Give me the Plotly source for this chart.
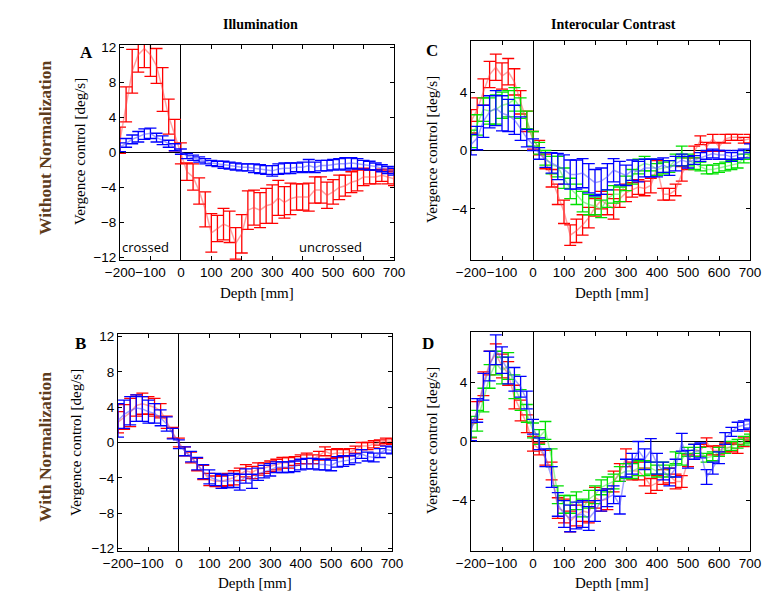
import plotly.graph_objects as go

# depth axis (mm), one sample every 20 mm
depth = list(range(-200, 720, 20))

# panel A - illumination, without normalization
a_red = [1.4, 5.5, 9.3, 11.2, 11.9, 11.2, 9.9, 7.2, 4.1, 2.0,
         -0.1, -2.2, -2.8, -4.4, -6.5, -9.2, -8.7, -8.2, -8.5, -10.4,
         -9.3, -6.6, -6.3, -6.6, -6.1, -5.9, -5.2, -5.7, -5.3, -5.1,
         -5.1, -5.1, -4.3, -4.3, -4.9, -4.5, -4.0, -3.8, -3.4, -3.2,
         -2.8, -2.8, -2.8, -2.6, -2.8, -3.0]
a_red_err = [1.5, 2.0, 2.5, 2.0, 2.2, 2.5, 2.0, 2.5, 2.0, 1.8,
             1.2, 1.0, 1.5, 1.5, 2.0, 2.2, 1.5, 1.8, 1.8, 1.8,
             2.2, 2.2, 2.0, 2.0, 2.0, 2.2, 2.0, 1.8, 1.8, 1.5,
             1.5, 1.6, 1.5, 1.5, 1.5, 1.4, 1.4, 1.2, 1.2, 1.2,
             1.0, 0.8, 0.8, 0.7, 0.8, 0.8]
a_blue = [0.6, 1.1, 1.5, 1.8, 2.1, 2.2, 1.7, 1.4, 1.0, 0.6,
          0.1, -0.4, -0.6, -0.8, -1.0, -1.2, -1.3, -1.4, -1.5, -1.6,
          -1.7, -1.7, -1.8, -1.9, -2.0, -2.1, -1.9, -1.8, -1.8, -1.7,
          -1.7, -1.5, -1.7, -1.5, -1.5, -1.4, -1.3, -1.3, -1.2, -1.3,
          -1.4, -1.5, -1.6, -1.8, -2.0, -2.2]
a_blue_err = [0.5, 0.5, 0.5, 0.6, 0.6, 0.6, 0.5, 0.5, 0.4, 0.4,
              0.3, 0.3, 0.3, 0.3, 0.3, 0.3, 0.3, 0.4, 0.4, 0.4,
              0.4, 0.4, 0.5, 0.5, 0.5, 0.6, 0.6, 0.6, 0.6, 0.5,
              0.6, 0.7, 0.6, 0.6, 0.6, 0.6, 0.6, 0.7, 0.6, 0.6,
              0.5, 0.5, 0.4, 0.4, 0.4, 0.4]

# panel B - illumination, with normalization
b_red = [2.3, 2.9, 3.4, 4.2, 4.4, 4.2, 4.0, 3.6, 2.3, 1.1,
         0.0, -1.0, -1.7, -2.5, -3.4, -4.2, -4.4, -4.4, -4.2, -4.0,
         -3.6, -3.2, -3.4, -3.0, -2.9, -2.7, -2.5, -2.3, -2.3, -2.1,
         -1.9, -1.8, -1.9, -1.5, -1.0, -1.3, -1.2, -1.2, -1.1, -0.8,
         -0.4, -0.4, -0.2, 0.0, 0.2, 0.1]
b_red_err = [1.2, 1.4, 1.6, 1.2, 1.2, 1.0, 1.0, 0.8, 0.7, 0.6,
             0.5, 0.5, 0.6, 0.7, 0.8, 0.7, 0.6, 0.6, 0.7, 0.8,
             0.7, 0.7, 0.7, 0.7, 0.6, 0.6, 0.6, 0.6, 0.6, 0.5,
             0.5, 0.6, 0.5, 0.5, 0.5, 0.5, 0.5, 0.4, 0.4, 0.4,
             0.4, 0.4, 0.4, 0.3, 0.3, 0.3]
b_blue = [2.5, 3.2, 3.6, 3.9, 3.8, 3.5, 3.3, 2.8, 2.1, 1.0,
          -0.2, -1.0, -1.6, -2.4, -3.3, -3.9, -4.2, -4.4, -4.4, -4.3,
          -4.5, -3.8, -4.4, -3.6, -3.3, -3.1, -2.8, -2.8, -2.8, -2.7,
          -2.5, -2.4, -2.4, -2.5, -2.5, -2.6, -2.2, -2.1, -2.0, -1.8,
          -1.3, -1.6, -1.7, -1.2, -0.8, -0.9]
b_blue_err = [1.9, 1.6, 1.6, 1.5, 1.4, 1.3, 1.1, 0.9, 0.8, 0.6,
              0.5, 0.5, 0.6, 0.7, 0.8, 0.8, 0.7, 0.8, 0.7, 0.8,
              0.9, 0.8, 0.8, 0.7, 0.7, 0.7, 0.6, 0.6, 0.6, 0.6,
              0.6, 0.6, 0.6, 0.6, 0.6, 0.6, 0.6, 0.6, 0.5, 0.5,
              0.5, 0.5, 0.5, 0.5, 0.4, 0.4]

# panel C - interocular contrast, without normalization
c_red = [2.0, 2.8, 4.0, 5.2, 5.7, 5.1, 5.4, 4.7, 3.3, 2.0,
         0.7, 0.2, -0.75, -1.9, -3.0, -4.2, -5.8, -5.5, -5.1, -4.6,
         -3.9, -3.4, -3.7, -4.0, -3.3, -2.9, -2.7, -2.5, -2.6, -2.4,
         -1.2, -3.0, -3.0, -2.7, -1.6, -0.9, -0.1, 0.7, 0.25, 0.8,
         0.25, 0.8, 0.9, 0.9, 0.7, 0.8]
c_red_err = [0.8, 0.8, 0.9, 0.9, 0.9, 0.9, 0.9, 0.9, 0.8, 0.7,
             0.6, 0.5, 0.5, 0.6, 0.7, 0.8, 0.7, 0.8, 0.7, 0.7,
             0.6, 0.6, 0.7, 0.7, 0.6, 0.6, 0.5, 0.5, 0.5, 0.5,
             0.5, 0.4, 0.4, 0.4, 0.5, 0.4, 0.4, 0.3, 0.3, 0.3,
             0.3, 0.3, 0.2, 0.2, 0.2, 0.3]
c_green = [0.8, 1.75, 2.8, 2.7, 2.8, 3.1, 3.2, 3.5, 2.9, 2.1,
           0.8, 0.15, -0.5, -1.0, -1.1, -1.9, -2.6, -3.0, -3.5, -3.7,
           -3.8, -4.0, -3.3, -3.0, -3.0, -2.25, -1.8, -1.1, -0.9, -1.0,
           -1.3, -1.2, -1.1, -0.65, -0.1, -0.65, -0.9, -1.1, -1.3, -1.3,
           -1.2, -1.1, -1.0, -0.9, -0.55, -0.3]
c_green_err = [0.6, 0.7, 0.8, 0.9, 1.0, 0.9, 0.9, 0.8, 0.7, 0.6,
               0.5, 0.4, 0.5, 0.6, 0.7, 0.7, 0.7, 0.7, 0.7, 0.7,
               0.6, 0.6, 0.6, 0.6, 0.5, 0.5, 0.5, 0.5, 0.5, 0.4,
               0.4, 0.4, 0.4, 0.4, 0.4, 0.4, 0.4, 0.3, 0.3, 0.3,
               0.3, 0.3, 0.3, 0.3, 0.3, 0.3]
c_blue = [0.4, 0.85, 2.0, 2.65, 2.9, 2.55, 2.4, 2.1, 1.5, 0.85,
          0.4, -0.2, -0.65, -0.85, -1.1, -1.3, -1.65, -1.65, -1.55, -1.9,
          -2.2, -2.1, -1.8, -1.35, -1.55, -1.7, -1.35, -1.45, -1.2, -1.2,
          -1.2, -1.0, -1.2, -0.9, -0.65, -0.8, -0.65, -0.45, -0.3, -0.2,
          -0.3, -0.3, -0.45, -0.3, -0.2, 0.15]
c_blue_err = [0.7, 0.8, 1.1, 1.1, 1.2, 1.2, 1.1, 1.0, 0.8, 0.6,
              0.4, 0.4, 0.5, 0.7, 0.9, 1.0, 1.0, 1.0, 1.0, 1.0,
              0.9, 0.9, 0.9, 0.8, 0.8, 0.7, 0.7, 0.7, 0.6, 0.6,
              0.6, 0.5, 0.5, 0.5, 0.4, 0.4, 0.3, 0.3, 0.3, 0.3,
              0.3, 0.3, 0.3, 0.3, 0.3, 0.3]

# panel D - interocular contrast, with normalization
d_red = [0.75, 2.1, 3.9, 5.3, 5.9, 5.1, 4.6, 3.0, 2.1, 1.2,
         -0.15, -0.5, -1.1, -2.0, -4.5, -4.7, -5.4, -5.0, -4.7, -4.8,
         -3.8, -4.0, -3.9, -2.7, -2.1, -1.1, -2.0, -2.0, -2.4, -3.0,
         -2.8, -2.4, -2.3, -2.7, -2.7, -1.3, -0.6, -0.6, -0.05, -0.6,
         -0.6, -0.4, -0.4, -0.5, -0.05, 0.4]
d_red_err = [0.5, 0.6, 0.8, 0.8, 0.7, 0.8, 0.8, 0.8, 0.7, 0.6,
             0.5, 0.4, 0.5, 0.6, 0.7, 0.8, 0.7, 0.7, 0.7, 0.7,
             0.7, 0.7, 0.7, 0.7, 0.6, 0.6, 0.6, 0.6, 0.6, 0.5,
             0.5, 0.5, 0.5, 0.5, 0.4, 0.4, 0.4, 0.4, 0.3, 0.3,
             0.3, 0.3, 0.3, 0.3, 0.3, 0.3]
d_green = [1.0, 1.4, 2.8, 4.4, 5.3, 4.8, 5.1, 3.7, 2.8, 1.9,
           0.75, 0.3, 0.75, -1.1, -3.6, -4.25, -4.25, -4.0, -4.5, -3.9,
           -3.6, -3.1, -2.9, -2.7, -2.2, -2.0, -2.0, -1.8, -1.8, -1.8,
           -2.0, -1.8, -2.0, -1.1, -1.2, -0.7, -0.5, -0.7, -1.1, -1.0,
           -0.7, -0.5, -0.3, -0.15, 0.05, 0.2]
d_green_err = [0.7, 0.7, 0.8, 0.8, 0.8, 0.9, 0.9, 0.8, 0.7, 0.6,
               0.5, 0.5, 0.6, 0.6, 0.6, 0.6, 0.6, 0.6, 0.6, 0.6,
               0.6, 0.5, 0.5, 0.5, 0.5, 0.5, 0.5, 0.5, 0.5, 0.4,
               0.4, 0.4, 0.4, 0.4, 0.4, 0.3, 0.3, 0.3, 0.3, 0.3,
               0.3, 0.3, 0.3, 0.3, 0.3, 0.3]
d_blue = [0.75, 2.1, 3.7, 5.1, 6.2, 5.5, 4.8, 4.2, 3.7, 2.8,
          1.0, -0.15, -1.1, -2.4, -4.25, -4.9, -5.2, -5.0, -4.9, -5.2,
          -4.7, -4.0, -3.8, -3.6, -4.3, -1.8, -1.5, -0.6, -1.2, -0.6,
          -1.5, -2.0, -2.4, -1.8, -0.05, -1.2, -0.7, -0.6, -2.4, -1.8,
          -1.1, 0.2, 0.65, 1.0, 1.1, 1.2]
d_blue_err = [0.7, 0.8, 0.9, 1.0, 1.0, 0.9, 0.9, 0.8, 0.7, 0.6,
              0.5, 0.4, 0.6, 0.7, 0.8, 0.9, 0.9, 0.9, 0.9, 0.8,
              0.7, 0.7, 0.6, 0.6, 0.6, 0.6, 0.7, 0.6, 0.7, 0.8,
              0.7, 0.6, 0.6, 0.6, 0.6, 0.6, 0.5, 0.5, 0.5, 0.4,
              0.4, 0.4, 0.3, 0.3, 0.3, 0.3]

x_ticks = [-200, -100, 0, 100, 200, 300, 400, 500, 600, 700]

# the page body keeps its default 8 px margin, so the figure is made
# smaller to fit inside the window and positions are given in window pixels
PAGE_MARGIN = 8
W, H = 771 - 2 * PAGE_MARGIN, 601 - 2 * PAGE_MARGIN
serif = "Liberation Serif"
sans = "Liberation Sans"
brown = "#5e3c1c"

line_col = {"red": "rgba(255,70,70,0.5)", "green": "rgba(60,230,60,0.5)",
            "blue": "rgba(70,70,255,0.5)"}
bar_col = {"red": "#ff0000", "green": "#00e000", "blue": "#0000ff"}


def px_x(p):
    return (p - PAGE_MARGIN) / W


def px_y(p):
    return 1 - (p - PAGE_MARGIN) / H


# (axis suffix, x domain px, y domain px, y range, y ticks, series)
panels = [
    ("", (120, 394), (45, 260), 12.3, [-12, -8, -4, 0, 4, 8, 12],
     [("red", a_red, a_red_err), ("blue", a_blue, a_blue_err)]),
    ("2", (118, 392), (334, 551), 12.3, [-12, -8, -4, 0, 4, 8, 12],
     [("red", b_red, b_red_err), ("blue", b_blue, b_blue_err)]),
    ("3", (471, 750), (41, 260), 7.5, [-4, 0, 4],
     [("red", c_red, c_red_err), ("green", c_green, c_green_err),
      ("blue", c_blue, c_blue_err)]),
    ("4", (471, 750), (332, 551), 7.4, [-4, 0, 4],
     [("red", d_red, d_red_err), ("green", d_green, d_green_err),
      ("blue", d_blue, d_blue_err)]),
]

fig = go.Figure()
layout = {}
for suf, xd, yd, yr, yt, series in panels:
    for col, vals, errs in series:
        fig.add_trace(go.Scatter(
            x=depth, y=vals, mode="lines",
            line=dict(color=line_col[col], width=1.5),
            error_y=dict(type="data", array=errs, visible=True,
                         color=bar_col[col], thickness=1.3, width=6),
            xaxis="x" + suf, yaxis="y" + suf, showlegend=False,
            hoverinfo="skip"))
    common = dict(showline=True, mirror="ticks", linecolor="black", linewidth=1,
                  ticks="inside", ticklen=4, tickcolor="black", showgrid=False,
                  zeroline=True, zerolinecolor="black", zerolinewidth=1.2,
                  tickangle=0, automargin=False,
                  tickfont=dict(family=sans, size=13.5, color="black"))
    layout["xaxis" + suf] = dict(
        common, domain=[px_x(xd[0]), px_x(xd[1])], range=[-200, 700],
        tickvals=x_ticks, anchor="y" + suf)
    layout["yaxis" + suf] = dict(
        common, domain=[px_y(yd[1]), px_y(yd[0])], range=[-yr, yr],
        tickvals=yt, anchor="x" + suf)

fig.update_layout(**layout)


def note(text, x, y, size, family=serif, color="black", angle=0, bold=False):
    if bold:
        text = "<b>" + text + "</b>"
    fig.add_annotation(text=text, x=px_x(x), y=px_y(y), xref="paper", yref="paper",
                       showarrow=False, textangle=angle, xanchor="center",
                       yanchor="middle",
                       font=dict(family=family, size=size, color=color))


# column titles and row labels
note("Illumination", 260, 24, 14, bold=True)
note("Interocular Contrast", 613, 24, 14, bold=True)
note("Without Normalization", 45, 148, 17.5, color=brown, angle=-90, bold=True)
note("With Normalization", 45, 447, 17.5, color=brown, angle=-90, bold=True)

# panel letters
note("A", 86, 53, 17, bold=True)
note("C", 432, 51, 17, bold=True)
note("B", 80, 343, 17, bold=True)
note("D", 428, 343, 17, bold=True)

# axis titles
for xc, yc in [(80, 152), (76, 443), (432, 150), (432, 441)]:
    note("Vergence control [deg/s]", xc, yc, 15, angle=-90)
for xc, yc in [(257, 293), (255, 583), (612, 293), (612, 583)]:
    note("Depth [mm]", xc, yc, 15)

note("crossed", 145, 247, 13, family="Open Sans")
note("uncrossed", 330, 247, 13, family="Open Sans")

fig.update_layout(width=W, height=H, margin=dict(l=0, r=0, t=0, b=0),
                  paper_bgcolor="white", plot_bgcolor="white")

fig.write_html("out.html")
